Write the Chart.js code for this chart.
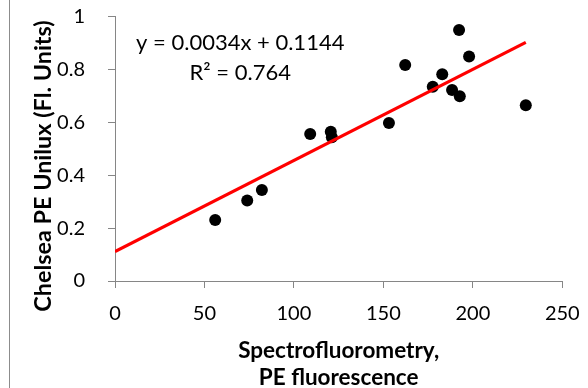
<!DOCTYPE html>
<html>
<head>
<meta charset="utf-8">
<script src="https://cdn.jsdelivr.net/npm/chart.js@4.4.1/dist/chart.umd.min.js"></script>
<style>
  html, body { margin: 0; padding: 0; background: #ffffff; }
  #wrap { position: relative; width: 588px; height: 388px; }
  #edge { position: absolute; left: 9px; top: 0; width: 1px; height: 388px; background: #8c8c8c; }
</style>
</head>
<body>
<div id="wrap">
  <canvas id="c" width="588" height="388"></canvas>
  <div id="edge"></div>
</div>
<script>
// Data
const xVals = [56.0, 73.9, 82.1, 109.1, 120.6, 121.2, 153.1, 162.2, 177.6, 182.9, 188.4, 192.3, 192.7, 197.9, 229.6];
const yVals = [0.231, 0.305, 0.344, 0.556, 0.565, 0.544, 0.598, 0.817, 0.735, 0.782, 0.723, 0.950, 0.699, 0.849, 0.665];
const trendX = [0, 229.6];
const trendY = [0.111, 0.903];
const xTickLabels = ['0', '50', '100', '150', '200', '250'];
const yTickLabels = ['0', '0.2', '0.4', '0.6', '0.8', '1'];
const equationLines = ['y = 0.0034x + 0.1144', 'R\u00B2 = 0.764'];
const xTitle = ['Spectrofluorometry,', 'PE fluorescence'];
const yTitle = 'Chelsea PE Unilux (Fl. Units)';

const points = xVals.map((x, i) => ({ x: x, y: yVals[i] }));
const trend = trendX.map((x, i) => ({ x: x, y: trendY[i] }));

const AXIS = '#868686';
const FONT = 'Lato';

const textPlugin = {
  id: 'texts',
  afterDatasetsDraw(chart) {
    const ctx = chart.ctx;
    const xs = chart.scales.x, ys = chart.scales.y;
    ctx.save();
    ctx.font = '22px ' + FONT;
    ctx.fillStyle = '#000000';
    ctx.textAlign = 'center';
    ctx.textBaseline = 'middle';
    const cx = xs.getPixelForValue(70);
    ctx.fillText(equationLines[0], cx, ys.getPixelForValue(0.899));
    ctx.fillText(equationLines[1], cx, ys.getPixelForValue(0.789));
    ctx.restore();
  },
  afterDraw(chart) {
    const ctx = chart.ctx;
    ctx.save();
    ctx.translate(43, 166);
    ctx.rotate(-Math.PI / 2);
    ctx.font = 'bold 23.4px ' + FONT;
    ctx.fillStyle = '#000000';
    ctx.textAlign = 'center';
    ctx.textBaseline = 'middle';
    ctx.fillText(yTitle, 0, 0);
    ctx.restore();
  }
};

new Chart(document.getElementById('c'), {
  type: 'scatter',
  data: {
    datasets: [
      {
        type: 'line',
        data: trend,
        borderColor: '#ff0000',
        borderWidth: 3.2,
        pointRadius: 0,
        fill: false,
        order: 0
      },
      {
        data: points,
        backgroundColor: '#000000',
        borderWidth: 0,
        pointRadius: 6,
        pointHoverRadius: 6,
        order: 1
      }
    ]
  },
  options: {
    responsive: true,
    maintainAspectRatio: false,
    animation: false,
    events: [],
    layout: { padding: { left: 0, top: 16.7, right: 25.7, bottom: 0 } },
    plugins: {
      legend: { display: false },
      tooltip: { enabled: false }
    },
    scales: {
      x: {
        type: 'linear',
        min: 0,
        max: 250,
        afterFit(scale) {
          scale.height = 107;
          scale.paddingLeft = 0;
          scale.paddingRight = 0;
        },
        afterBuildTicks(scale) {
          scale.ticks = xTickLabels.map(v => ({ value: parseFloat(v) }));
        },
        ticks: {
          padding: 14,
          color: '#000000',
          font: { family: FONT, size: 20 },
          maxRotation: 0,
          callback: (v, i) => xTickLabels[i]
        },
        grid: { drawOnChartArea: false, drawTicks: true, tickLength: 7, color: AXIS, lineWidth: 1 },
        border: { display: true, color: AXIS, width: 1 },
        title: {
          display: true,
          text: xTitle,
          color: '#000000',
          font: { family: FONT, size: 22.5, weight: 'bold', lineHeight: 1.2 },
          padding: { top: 0, bottom: -3.5 }
        }
      },
      y: {
        type: 'linear',
        min: 0,
        max: 1,
        afterFit(scale) {
          scale.width = 115;
          scale.paddingTop = 0;
          scale.paddingBottom = 0;
        },
        afterBuildTicks(scale) {
          scale.ticks = yTickLabels.map(v => ({ value: parseFloat(v) }));
        },
        ticks: {
          padding: 23,
          color: '#000000',
          font: { family: FONT, size: 20 },
          callback: (v, i) => yTickLabels[i]
        },
        grid: { drawOnChartArea: false, drawTicks: true, tickLength: 7, color: AXIS, lineWidth: 1 },
        border: { display: true, color: AXIS, width: 1 },
        title: { display: false }
      }
    }
  },
  plugins: [textPlugin]
});
</script>
</body>
</html>
